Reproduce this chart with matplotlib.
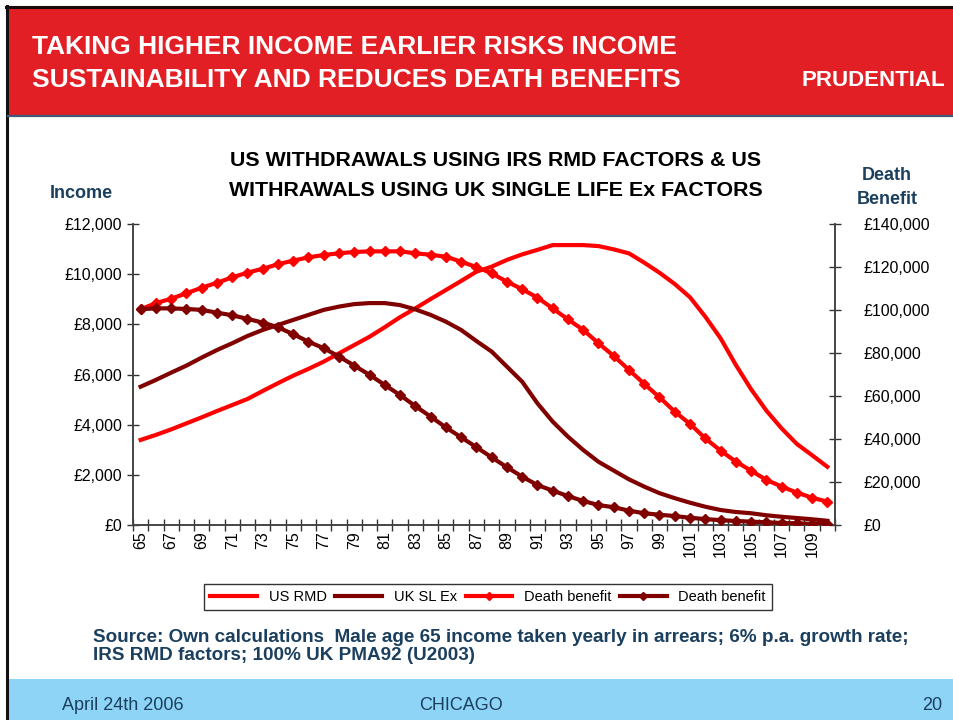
import numpy as np
import matplotlib
matplotlib.use("Agg")
import matplotlib.pyplot as plt
from matplotlib.lines import Line2D
from matplotlib.patches import Rectangle

plt.rcParams['font.family'] = ['Liberation Sans', 'DejaVu Sans']

# ages 65..110
ages = list(range(65, 111))
age_labels = [str(a) if a % 2 == 1 else '' for a in ages]

# income (left axis, GBP)
us_rmd_income = [3400, 3600, 3820, 4060, 4300, 4550, 4790, 5030, 5350, 5660,
                 5960, 6230, 6520, 6850, 7180, 7510, 7890, 8290, 8640, 9010,
                 9370, 9730, 10100, 10300, 10570, 10790, 10970, 11160, 11160, 11160,
                 11120, 10990, 10830, 10460, 10060, 9610, 9080, 8310, 7450, 6390,
                 5420, 4570, 3860, 3240, 2790, 2330]
uk_slex_income = [5520, 5790, 6080, 6360, 6680, 6980, 7250, 7540, 7780, 7980,
                  8180, 8380, 8580, 8710, 8810, 8850, 8850, 8770, 8600, 8380,
                  8110, 7780, 7340, 6920, 6320, 5720, 4860, 4130, 3530, 3000,
                  2530, 2180, 1830, 1540, 1280, 1080, 900, 740, 610, 530,
                  480, 400, 340, 290, 240, 180]

# death benefit (right axis, GBP)
us_death_benefit = [100400, 103200, 105300, 107800, 110400, 112700, 115200, 117400, 119200, 121300,
                    123000, 124500, 125600, 126400, 127000, 127300, 127300, 127300, 126400, 125700,
                    124800, 122500, 120000, 117100, 113200, 109700, 105800, 100800, 95700, 90800,
                    84600, 78700, 72200, 65700, 59500, 52800, 47100, 40400, 34700, 29600,
                    25400, 21100, 18000, 15200, 12800, 11000]
uk_death_benefit = [100400, 100800, 100800, 100500, 100100, 98800, 97600, 95900, 94200, 92000,
                    88800, 85300, 82300, 78400, 74200, 69900, 65200, 60500, 55400, 50500,
                    45500, 40900, 36300, 31600, 27000, 22600, 18700, 16100, 13600, 11300,
                    9400, 8400, 6800, 5600, 4900, 4300, 3500, 2900, 2400, 2000,
                    1700, 1400, 1100, 900, 700, 600]

left_ticks = [0, 2000, 4000, 6000, 8000, 10000, 12000]
right_ticks = [0, 20000, 40000, 60000, 80000, 100000, 120000, 140000]

BRIGHT = '#FF0000'
DARK = '#800000'
NAVY = '#1B3F5E'
W, H = 954, 720

fig = plt.figure(figsize=(W / 100, H / 100), dpi=100)
fig.patch.set_facecolor('white')

def fx(px):
    return px / W

def fy(py):
    return 1 - py / H

# header band, borders, footer
fig.patches.append(Rectangle((fx(7), fy(116)), 1, fy(7) - fy(116), transform=fig.transFigure,
                             facecolor='#E31F26', edgecolor='none', zorder=0))
fig.add_artist(Line2D([fx(6), 1], [fy(7), fy(7)], color='#1a0a0a', lw=2.2))
fig.add_artist(Line2D([fx(7), fx(7)], [0, fy(6)], color='#111111', lw=2.2))
fig.add_artist(Line2D([fx(8), 1], [fy(116), fy(116)], color='#3d5a78', lw=1.6))
fig.patches.append(Rectangle((fx(8), 0), 1, fy(679), transform=fig.transFigure,
                             facecolor='#8ED4F6', edgecolor='none', zorder=0))

fig.text(fx(32), fy(47), 'TAKING HIGHER INCOME EARLIER RISKS INCOME', color='white',
         fontsize=19, fontweight='bold', va='center', ha='left')
fig.text(fx(32), fy(80), 'SUSTAINABILITY AND REDUCES DEATH BENEFITS', color='white',
         fontsize=19, fontweight='bold', va='center', ha='left')
fig.text(fx(873), fy(80), 'PRUDENTIAL', color='white', fontsize=16, fontweight='heavy',
         va='center', ha='center')

# chart
ax = fig.add_axes([fx(133), fy(525.3), fx(835) - fx(133), fy(224) - fy(525.3)])
x = np.arange(len(ages))
ax.plot(x, us_rmd_income, color=BRIGHT, lw=3, solid_joinstyle='round', zorder=3)
ax.plot(x, uk_slex_income, color=DARK, lw=3, solid_joinstyle='round', zorder=3)
ax.set_xlim(-0.5, len(ages) - 0.5)
ax.set_ylim(0, 12000)
ax.set_yticks(left_ticks)
ax.set_yticklabels(['£{:,}'.format(v) for v in left_ticks], fontsize=11.5)
ax.set_xticks(x)
ax.set_xticklabels(age_labels, rotation=90, fontsize=11.5)
ax.set_xticks(np.arange(len(ages) + 1) - 0.5, minor=True)
ax.tick_params(axis='x', which='major', length=0, pad=4)
ax.tick_params(axis='x', which='minor', direction='inout', length=9, width=1, color='#333333')
ax.tick_params(axis='y', direction='inout', length=9, width=1, color='#333333')
ax.spines['top'].set_visible(False)
for s in ('left', 'right', 'bottom'):
    ax.spines[s].set_color('#444444')
    ax.spines[s].set_linewidth(1.2)
ax.patch.set_alpha(0)

ax2 = ax.twinx()
ax2.plot(x, us_death_benefit, color=BRIGHT, lw=3, marker='D', markersize=5, zorder=3)
ax2.plot(x, uk_death_benefit, color=DARK, lw=3, marker='D', markersize=5, zorder=3)
ax2.set_ylim(0, 140000)
ax2.set_yticks(right_ticks)
ax2.set_yticklabels(['£0' if v == 0 else '£{:,}'.format(v) for v in right_ticks], fontsize=11.5)
ax2.tick_params(axis='y', direction='inout', length=9, width=1, color='#333333', pad=16)
ax2.spines['top'].set_visible(False)
for s in ('left', 'right', 'bottom'):
    ax2.spines[s].set_color('#444444')
    ax2.spines[s].set_linewidth(1.2)

fig.text(fx(496), fy(160), 'US WITHDRAWALS USING IRS RMD FACTORS & US', fontsize=15.4,
         fontweight='bold', ha='center', va='center', color='black')
fig.text(fx(496), fy(190), 'WITHRAWALS USING UK SINGLE LIFE Ex FACTORS', fontsize=15.4,
         fontweight='bold', ha='center', va='center', color='black')
fig.text(fx(50), fy(193), 'Income', fontsize=13, fontweight='bold', color=NAVY, ha='left', va='center')
fig.text(fx(887), fy(176), 'Death', fontsize=13, fontweight='bold', color=NAVY, ha='center', va='center')
fig.text(fx(887), fy(199), 'Benefit', fontsize=13, fontweight='bold', color=NAVY, ha='center', va='center')

handles = [
    Line2D([], [], color=BRIGHT, lw=3),
    Line2D([], [], color=DARK, lw=3),
    Line2D([], [], color=BRIGHT, lw=3, marker='D', markersize=4),
    Line2D([], [], color=DARK, lw=3, marker='D', markersize=4),
]
labels = ['US RMD', 'UK SL Ex', 'Death benefit', 'Death benefit']
leg = fig.legend(handles, labels, loc='center', bbox_to_anchor=(fx(488), fy(597)), ncol=4,
                 fontsize=10.5, frameon=True, fancybox=False, edgecolor='black',
                 handlelength=3.2, columnspacing=0.6, handletextpad=0.8, borderpad=0.4)
leg.get_frame().set_linewidth(1)

fig.text(fx(93), fy(637), 'Source: Own calculations  Male age 65 income taken yearly in arrears; 6% p.a. growth rate;',
         fontsize=13.6, fontweight='bold', color=NAVY, ha='left', va='center')
fig.text(fx(93), fy(656), 'IRS RMD factors; 100% UK PMA92 (U2003)',
         fontsize=13.6, fontweight='bold', color=NAVY, ha='left', va='center')

fig.text(fx(62), fy(705), 'April 24th 2006', fontsize=13, color=NAVY, ha='left', va='center')
fig.text(fx(461), fy(705), 'CHICAGO', fontsize=13, color=NAVY, ha='center', va='center')
fig.text(fx(942), fy(705), '20', fontsize=13, color=NAVY, ha='right', va='center')

fig.savefig('out.png', dpi=100)
